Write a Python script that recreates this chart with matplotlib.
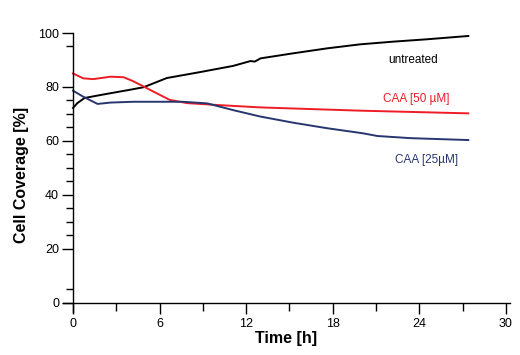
import numpy as np
import matplotlib
matplotlib.use("Agg")
import matplotlib.pyplot as plt

plt.rcParams['font.family'] = ['Liberation Sans', 'DejaVu Sans']

# untreated
t_untr = [0, 0.3, 0.8, 1.9, 4.0, 4.9, 6.5, 8.8, 11.1, 12.3, 12.6, 13.0, 15.3, 17.6, 19.9, 22.2, 24.6, 27.4]
v_untr = [72.2, 74.0, 75.9, 77.0, 79.0, 79.9, 83.3, 85.5, 87.8, 89.6, 89.4, 90.6, 92.5, 94.3, 95.8, 96.8, 97.7, 98.9]

# CAA 50 uM
t_50 = [0, 0.7, 1.4, 2.6, 3.5, 4.1, 4.7, 5.6, 6.7, 7.9, 10.0, 13.0, 19.9, 27.4]
v_50 = [85.0, 83.2, 82.9, 83.8, 83.6, 82.3, 80.7, 78.2, 75.2, 74.0, 73.3, 72.4, 71.2, 70.2]

# CAA 25 uM
t_25 = [0, 0.7, 1.7, 2.6, 4.2, 7.6, 9.3, 11.1, 13.0, 15.3, 17.6, 20.1, 21.1, 23.4, 27.4]
v_25 = [78.6, 76.4, 73.7, 74.2, 74.5, 74.5, 73.9, 71.4, 69.0, 66.7, 64.7, 62.8, 61.8, 61.0, 60.3]

x_major = [0, 6, 12, 18, 24, 30]
y_major = [0, 20, 40, 60, 80, 100]
y_minor = [5, 25, 30, 35, 45, 50, 55, 65, 70, 75, 95]

red = '#ee1c25'
navy = '#27366f'

fig = plt.figure(figsize=(5.2, 3.55), dpi=100)
ax = fig.add_axes([0.121, 0.121, 0.86, 0.786])

ax.plot(t_untr, v_untr, color='black', lw=1.4)
ax.plot(t_50, v_50, color=red, lw=1.4)
ax.plot(t_25, v_25, color=navy, lw=1.4)

ax.set_xlim(-0.7, 30.3)
ax.set_ylim(-3.5, 100)
ax.spines['left'].set_position(('data', 0))
ax.spines['bottom'].set_position(('data', 0))
ax.spines['left'].set_bounds(-3.5, 100)
ax.spines['top'].set_visible(False)
ax.spines['right'].set_visible(False)
for s in ['left', 'bottom']:
    ax.spines[s].set_linewidth(1.0)

ax.set_xticks(x_major)
ax.set_xticks([3, 9, 15, 21, 27], minor=True)
ax.set_yticks(y_major)
ax.set_yticks(y_minor, minor=True)
ax.tick_params(axis='both', which='major', direction='out', length=8, width=1, labelsize=9)
ax.tick_params(axis='x', which='major', pad=3)
ax.tick_params(axis='y', which='major', pad=2)
ax.tick_params(axis='y', which='minor', direction='out', length=5, width=1)
ax.tick_params(axis='x', which='minor', direction='out', length=6, width=1)

ax.set_ylabel('Cell Coverage [%]', fontsize=11.5, fontweight='bold')
ax.set_xlabel('Time [h]', fontsize=11.5, fontweight='bold', labelpad=1)
ax.yaxis.set_label_coords(-0.075, 0.49)

ax.text(23.6, 90, 'untreated', color='black', fontsize=8.5, ha='center', va='center')
ax.text(23.8, 75.5, 'CAA [50 µM]', color=red, fontsize=8.5, ha='center', va='center')
ax.text(24.5, 52.9, 'CAA [25µM]', color=navy, fontsize=8.5, ha='center', va='center')

fig.savefig('out.png', dpi=100)
